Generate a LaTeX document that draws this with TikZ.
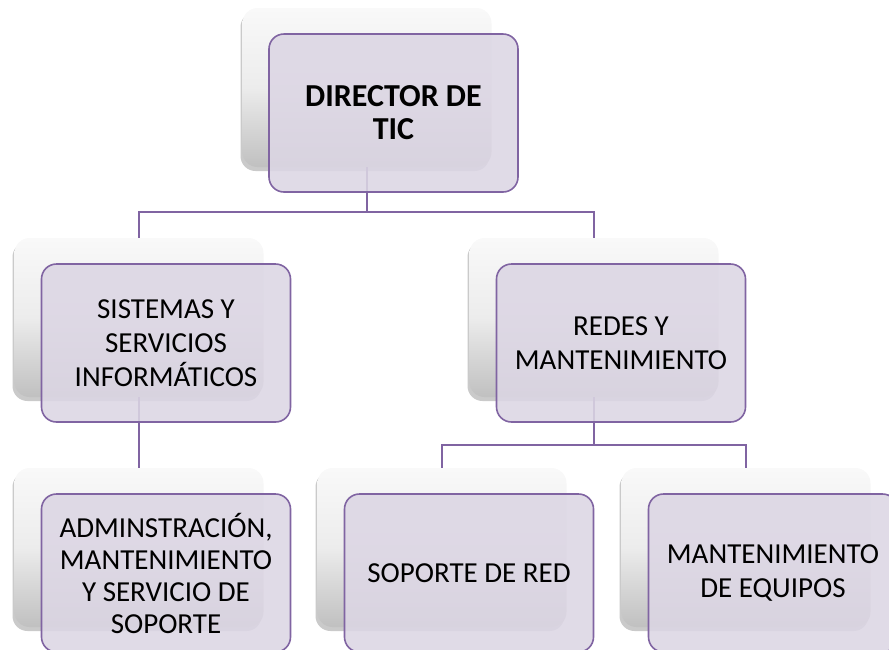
\documentclass[tikz,border=0pt]{standalone}
\usepackage{fontspec}
\setmainfont{Carlito}
\usetikzlibrary{shadows}
\definecolor{accpurple}{RGB}{128,100,162}
\definecolor{lavender}{RGB}{220,214,228}
\definecolor{gtop}{RGB}{249,249,249}
\definecolor{gmid}{RGB}{236,236,236}
\definecolor{gbot}{RGB}{192,192,192}
\tikzset{
  backbox/.style={rectangle, rounded corners=15pt, minimum width=249pt, minimum height=159pt,
    top color=gtop, bottom color=gbot, middle color=gmid, draw=none,
    drop shadow={shadow xshift=-2pt, shadow yshift=-4pt, opacity=0.35, fill=black!60}},
  frontbox/.style={rectangle, rounded corners=15pt, minimum width=249pt, minimum height=158pt,
    draw=accpurple, line width=1.6pt, fill=lavender, fill opacity=0.88, text opacity=1,
    align=center, font=\fontsize{29}{34}\selectfont, text=black, inner sep=4pt},
  conn/.style={draw=accpurple, line width=1.8pt}
}
\begin{document}
\begin{tikzpicture}[x=1pt, y=-1pt]
\useasboundingbox (0,0) rectangle (889,649);
\begin{scope}
\clip (0,0) rectangle (889,649);
% back boxes
\node[backbox] (dirB) at (367,87.5) {};
\node[backbox] (sisB) at (139,317.5) {};
\node[backbox] (redB) at (594,317.5) {};
\node[backbox] (admB) at (139,547.5) {};
\node[backbox] (sopB) at (442,547.5) {};
\node[backbox] (manB) at (746,547.5) {};
% connectors
\coordinate (busA) at (367,212);
\coordinate (busB) at (594,445);
\draw[conn] (dirB.south) -- (busA);
\draw[conn] (busA) -| (sisB.north);
\draw[conn] (busA) -| (redB.north);
\draw[conn] (sisB.south) -- (admB.north);
\draw[conn] (redB.south) -- (busB);
\draw[conn] (busB) -| (sopB.north);
\draw[conn] (busB) -| (manB.north);
% front boxes
\node[frontbox, font=\fontsize{32}{33}\selectfont\bfseries] (dir) at (393.5,113) {DIRECTOR DE\\TIC};
\node[frontbox] (sis) at (166,343) {SISTEMAS Y\\SERVICIOS\\INFORMÁTICOS};
\node[frontbox] (red) at (621,343) {REDES Y\\MANTENIMIENTO};
\node[frontbox, font=\fontsize{29}{32}\selectfont] (adm) at (166,573) {ADMINSTRACIÓN,\\MANTENIMIENTO\\Y SERVICIO DE\\SOPORTE};
\node[frontbox] (sop) at (469,573) {SOPORTE DE RED};
\node[frontbox] (man) at (773,573) {MANTENIMIENTO\\DE EQUIPOS};
\end{scope}
\end{tikzpicture}
\end{document}
